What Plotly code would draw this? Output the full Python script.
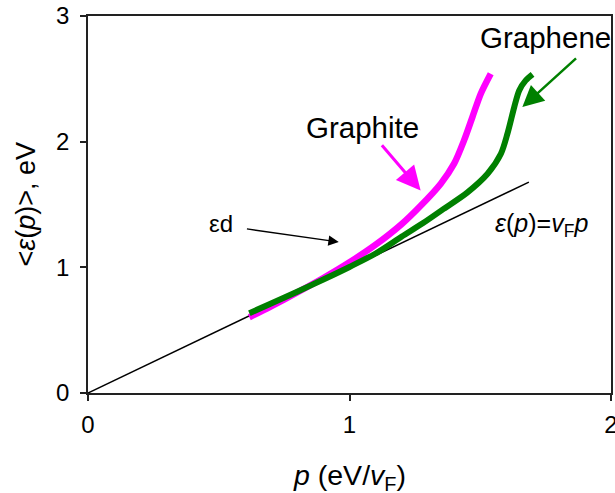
import plotly.graph_objects as go

# Linear dispersion eps = vF p
p_line = [0.0, 1.686]
e_line = [0.0, 1.678]

# Graphite curve (magenta)
p_graphite = [0.617, 0.70, 0.80, 0.90, 1.00, 1.10, 1.20, 1.272, 1.349, 1.40, 1.438, 1.47, 1.502, 1.54]
e_graphite = [0.603, 0.69, 0.80, 0.915, 1.04, 1.18, 1.345, 1.49, 1.666, 1.825, 2.01, 2.196, 2.382, 2.541]

# Graphene curve (green)
p_graphene = [0.617, 0.70, 0.80, 0.90, 1.00, 1.10, 1.20, 1.28, 1.36, 1.45, 1.528, 1.579, 1.604, 1.630, 1.649, 1.674, 1.700]
e_graphene = [0.635, 0.712, 0.806, 0.903, 1.003, 1.11, 1.245, 1.35, 1.465, 1.595, 1.745, 1.904, 2.064, 2.275, 2.408, 2.488, 2.536]

x_ticks = [0, 1, 2]
y_ticks = [0, 1, 2, 3]

FONT = "Liberation Sans, Arial, sans-serif"

fig = go.Figure()
fig.add_trace(go.Scatter(x=p_line, y=e_line, mode="lines",
                         line=dict(color="black", width=1.5), showlegend=False))
fig.add_trace(go.Scatter(x=p_graphite, y=e_graphite, mode="lines",
                         line=dict(color="#FF00FF", width=6.5, shape="spline", smoothing=0.8),
                         showlegend=False))
fig.add_trace(go.Scatter(x=p_graphene, y=e_graphene, mode="lines",
                         line=dict(color="#008000", width=6, shape="spline", smoothing=0.8),
                         showlegend=False))

annotations = [
    # labels
    dict(x=1.751, y=2.830, text="Graphene", showarrow=False,
         font=dict(size=29.5, color="black", family=FONT), xanchor="center", yanchor="middle"),
    dict(x=1.049, y=2.114, text="Graphite", showarrow=False,
         font=dict(size=29.5, color="black", family=FONT), xanchor="center", yanchor="middle"),
    dict(x=0.510, y=1.350, text="εd", showarrow=False,
         font=dict(size=24, color="black", family=FONT), xanchor="center", yanchor="middle"),
    dict(x=1.736, y=1.334, text="<i>ε</i>(<i>p</i>)=<i>v</i><sub>F</sub><i>p</i>", showarrow=False,
         font=dict(size=25, color="black", family=FONT), xanchor="center", yanchor="middle"),
    # arrows
    dict(x=1.272, y=1.612, ax=1.119, ay=1.984, axref="x", ayref="y", xref="x", yref="y",
         text="", showarrow=True, arrowhead=2, arrowsize=1.6, arrowwidth=3, arrowcolor="#FF00FF", standoff=0),
    dict(x=1.661, y=2.275, ax=1.872, ay=2.674, axref="x", ayref="y", xref="x", yref="y",
         text="", showarrow=True, arrowhead=2, arrowsize=1.7, arrowwidth=2.5, arrowcolor="#008000", standoff=0),
    dict(x=0.959, y=1.201, ax=0.602, ay=1.307, axref="x", ayref="y", xref="x", yref="y",
         text="", showarrow=True, arrowhead=2, arrowsize=1.6, arrowwidth=1.3, arrowcolor="black", standoff=0),
    # axis titles
    dict(x=0.5, y=0, xref="paper", yref="paper", yshift=-84, xanchor="center", yanchor="middle",
         text="<i>p</i> (eV/<i>v</i><sub>F</sub>)", showarrow=False,
         font=dict(size=28.5, color="black", family=FONT)),
    dict(x=0, y=0.5, xref="paper", yref="paper", xshift=-63, xanchor="center", yanchor="middle",
         textangle=-90, text="&lt;<i>ε</i>(<i>p</i>)&gt;, eV", showarrow=False,
         font=dict(size=27, color="black", family=FONT)),
]

fig.update_layout(
    width=615, height=493,
    margin=dict(l=88, r=4, t=16, b=100, pad=0),
    paper_bgcolor="white", plot_bgcolor="white",
    font=dict(family=FONT, color="black"),
    annotations=annotations,
    xaxis=dict(range=[0, 2], tickvals=x_ticks, ticktext=[str(v) for v in x_ticks],
               showgrid=False, zeroline=False, showline=True, linecolor="#222", linewidth=1.5,
               mirror=True, ticks="outside", ticklen=6, tickwidth=1.5, tickcolor="#222",
               ticklabelstandoff=3, ticklabeloverflow="allow", automargin=False,
               tickfont=dict(size=24, color="black", family=FONT)),
    yaxis=dict(range=[0, 3], tickvals=y_ticks, ticktext=[str(v) for v in y_ticks],
               showgrid=False, zeroline=False, showline=True, linecolor="#222", linewidth=1.5,
               mirror=True, ticks="outside", ticklen=6, tickwidth=1.5, tickcolor="#222",
               ticklabelstandoff=6, ticklabeloverflow="allow", automargin=False,
               tickfont=dict(size=24, color="black", family=FONT)),
)

# Remove the default 8px page margin so the 615x493 figure fills the window exactly.
fig.write_html("out.html", config={"displayModeBar": False},
               post_script="document.body.style.margin='0';document.body.style.overflow='hidden';")
